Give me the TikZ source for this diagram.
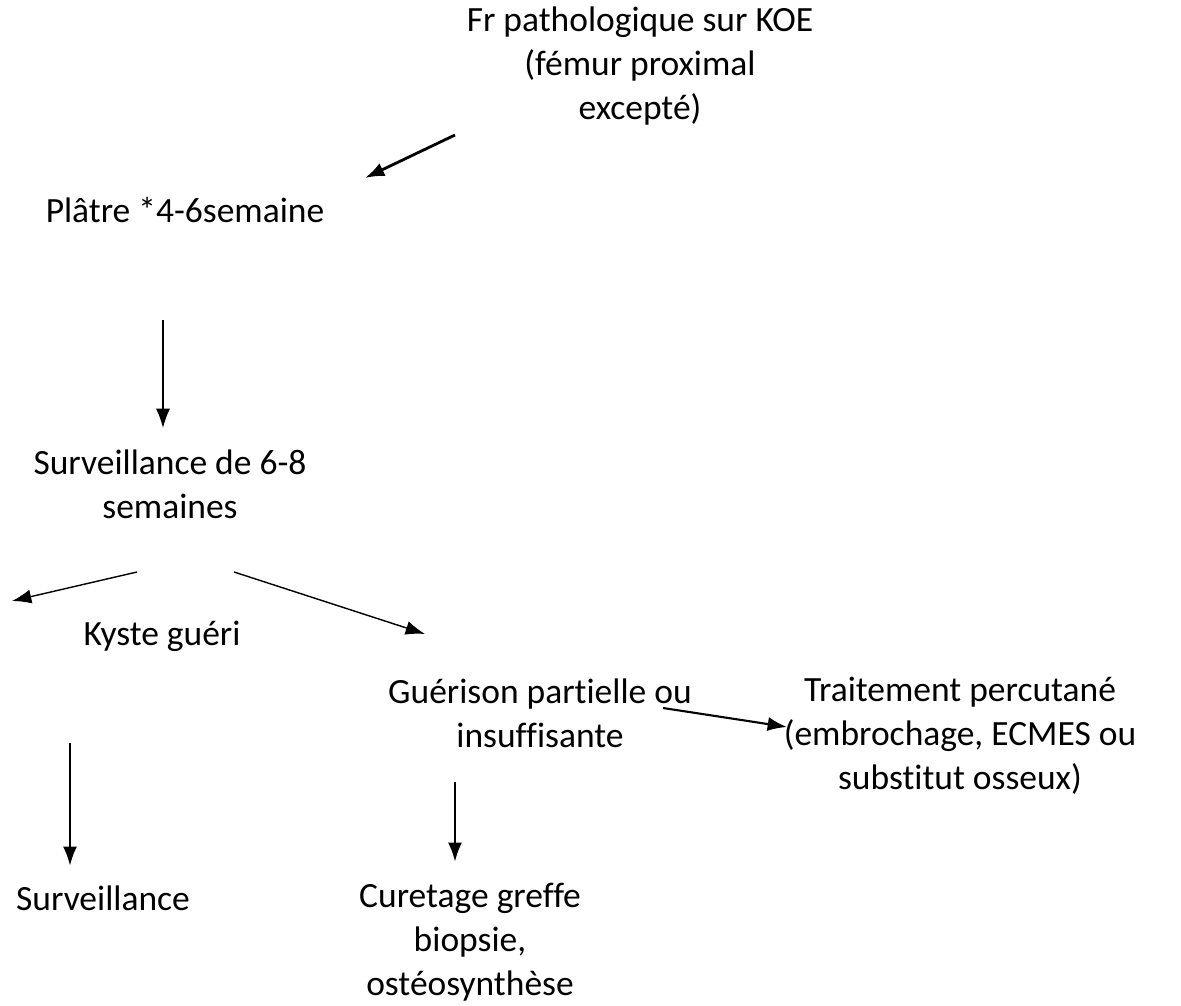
\documentclass[tikz,border=0pt]{standalone}
\usepackage{fontspec}
\setmainfont{Carlito}[Ligatures=CommonOff]
\usetikzlibrary{arrows.meta,positioning}

\begin{document}
\begin{tikzpicture}[x=0.02cm,y=-0.02cm,
  every node/.style={align=center,inner sep=0,font=\fontsize{20.2}{25}\selectfont},
  fleche/.style={-{Latex[length=11pt,width=8pt]},line width=0.8pt},
  grosse/.style={fleche,line width=1.6pt}]
\useasboundingbox (0,0) rectangle (1181,1006);

\node (fr) at (640,66) {Fr pathologique sur KOE\\(fémur proximal\\excepté)};
\node (platre) at (185,210) {Plâtre *4-6semaine};
\node (surv68) at (170,484) {Surveillance de 6-8\\semaines};
\node (kyste) at (162,636) {Kyste guéri};
\node (partielle) at (540,713) {Guérison partielle ou\\insuffisante};
\node (percut) at (960,736) {Traitement percutané\\(embrochage, ECMES ou\\substitut osseux)};
\node (surv) at (103,898) {Surveillance};
\node (curetage) at (470,942) {Curetage greffe\\biopsie,\\ostéosynthèse};

% fleches flottantes
\coordinate (a1) at (455,135); \coordinate (b1) at (365,178);
\coordinate (a2) at (163,320); \coordinate (b2) at (163,428);
\coordinate (a3) at (137,572); \coordinate (b3) at (12,601);
\coordinate (a4) at (234,572); \coordinate (b4) at (425,634);
\coordinate (a5) at (70,743);  \coordinate (b5) at (70,866);
\coordinate (a6) at (455,782); \coordinate (b6) at (455,862);
\coordinate (a7) at (663,708); \coordinate (b7) at (787,727);

\draw[grosse] (a1) -- (b1);
\draw[fleche] (a2) -- (b2);
\draw[fleche] (a3) -- (b3);
\draw[fleche] (a4) -- (b4);
\draw[grosse] (a5) -- (b5);
\draw[grosse] (a6) -- (b6);
\draw[fleche,line width=1.2pt] (a7) -- (b7);
\end{tikzpicture}
\end{document}
